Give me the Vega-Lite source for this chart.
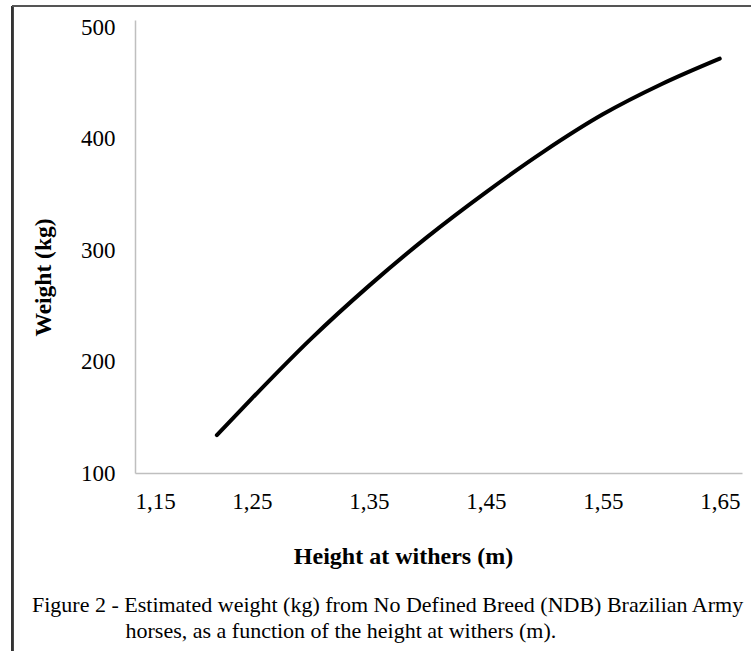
{
  "$schema": "https://vega.github.io/schema/vega-lite/v6.json",
  "autosize": "none",
  "width": 607,
  "height": 453,
  "padding": {"left": 135, "top": 20, "right": 9, "bottom": 178},
  "background": "white",
  "config": {"view": {"stroke": null}},
  "title": {
    "text": ["Figure 2 - Estimated weight (kg) from No Defined Breed (NDB) Brazilian Army", "\u200b\u00a0\u00a0\u00a0\u00a0\u00a0\u00a0\u00a0\u00a0\u00a0\u00a0\u00a0\u00a0\u00a0\u00a0\u00a0\u00a0\u00a0horses, as a function of the height at withers (m)."],
    "orient": "bottom",
    "anchor": "start",
    "frame": "group",
    "dx": -103,
    "offset": -57,
    "font": "Liberation Serif",
    "fontSize": 22,
    "fontWeight": "normal",
    "color": "#000000",
    "lineHeight": 26
  },
  "data": {
    "values": [
      {"height": 1.22, "weight": 134},
      {"height": 1.25, "weight": 167},
      {"height": 1.30, "weight": 220},
      {"height": 1.35, "weight": 268},
      {"height": 1.40, "weight": 312},
      {"height": 1.45, "weight": 352},
      {"height": 1.50, "weight": 389},
      {"height": 1.55, "weight": 422},
      {"height": 1.60, "weight": 449},
      {"height": 1.65, "weight": 472}
    ]
  },
  "layer": [
    {
      "mark": {"type": "line", "color": "#000000", "strokeWidth": 4, "interpolate": "monotone", "strokeCap": "round"},
      "encoding": {
        "x": {
          "field": "height", "type": "quantitative",
          "scale": {"domain": [1.15, 1.669], "nice": false, "zero": false},
          "axis": {
            "values": [1.15, 1.25, 1.35, 1.45, 1.55, 1.65],
            "labelExpr": "replace(format(datum.value, '.2f'), '.', ',')",
            "grid": false, "ticks": false,
            "domainColor": "#bfbfbf", "domainWidth": 1.5,
            "labelFont": "Liberation Serif", "labelFontSize": 23, "labelColor": "#000000",
            "labelPadding": 17,
            "title": "Height at withers  (m)",
            "titleFont": "Liberation Serif", "titleFontSize": 24, "titleFontWeight": "bold", "titleColor": "#000000",
            "titleX": 268, "titleY": 83, "titleBaseline": "middle"
          }
        },
        "y": {
          "field": "weight", "type": "quantitative",
          "scale": {"domain": [100, 506.7], "nice": false, "zero": false},
          "axis": {
            "values": [100, 200, 300, 400, 500],
            "grid": false, "ticks": false,
            "domainColor": "#bfbfbf", "domainWidth": 1.5,
            "labelFont": "Liberation Serif", "labelFontSize": 23, "labelColor": "#000000",
            "labelPadding": 20,
            "title": "Weight (kg)",
            "titleFont": "Liberation Serif", "titleFontSize": 23.5, "titleFontWeight": "bold", "titleColor": "#000000",
            "titleX": -92, "titleY": 257, "titleBaseline": "middle"
          }
        }
      }
    },
    {
      "mark": {"type": "rule", "color": "#333333", "strokeWidth": 2, "clip": false},
      "encoding": {
        "x": {"datum": 1.045, "type": "quantitative"},
        "y": {"datum": 519.3, "type": "quantitative"},
        "y2": {"datum": -60}
      }
    },
    {
      "mark": {"type": "rule", "color": "#555555", "strokeWidth": 2, "clip": false},
      "encoding": {
        "x": {"datum": 1.045, "type": "quantitative"},
        "x2": {"datum": 1.68},
        "y": {"datum": 519.3, "type": "quantitative"}
      }
    }
  ]
}
